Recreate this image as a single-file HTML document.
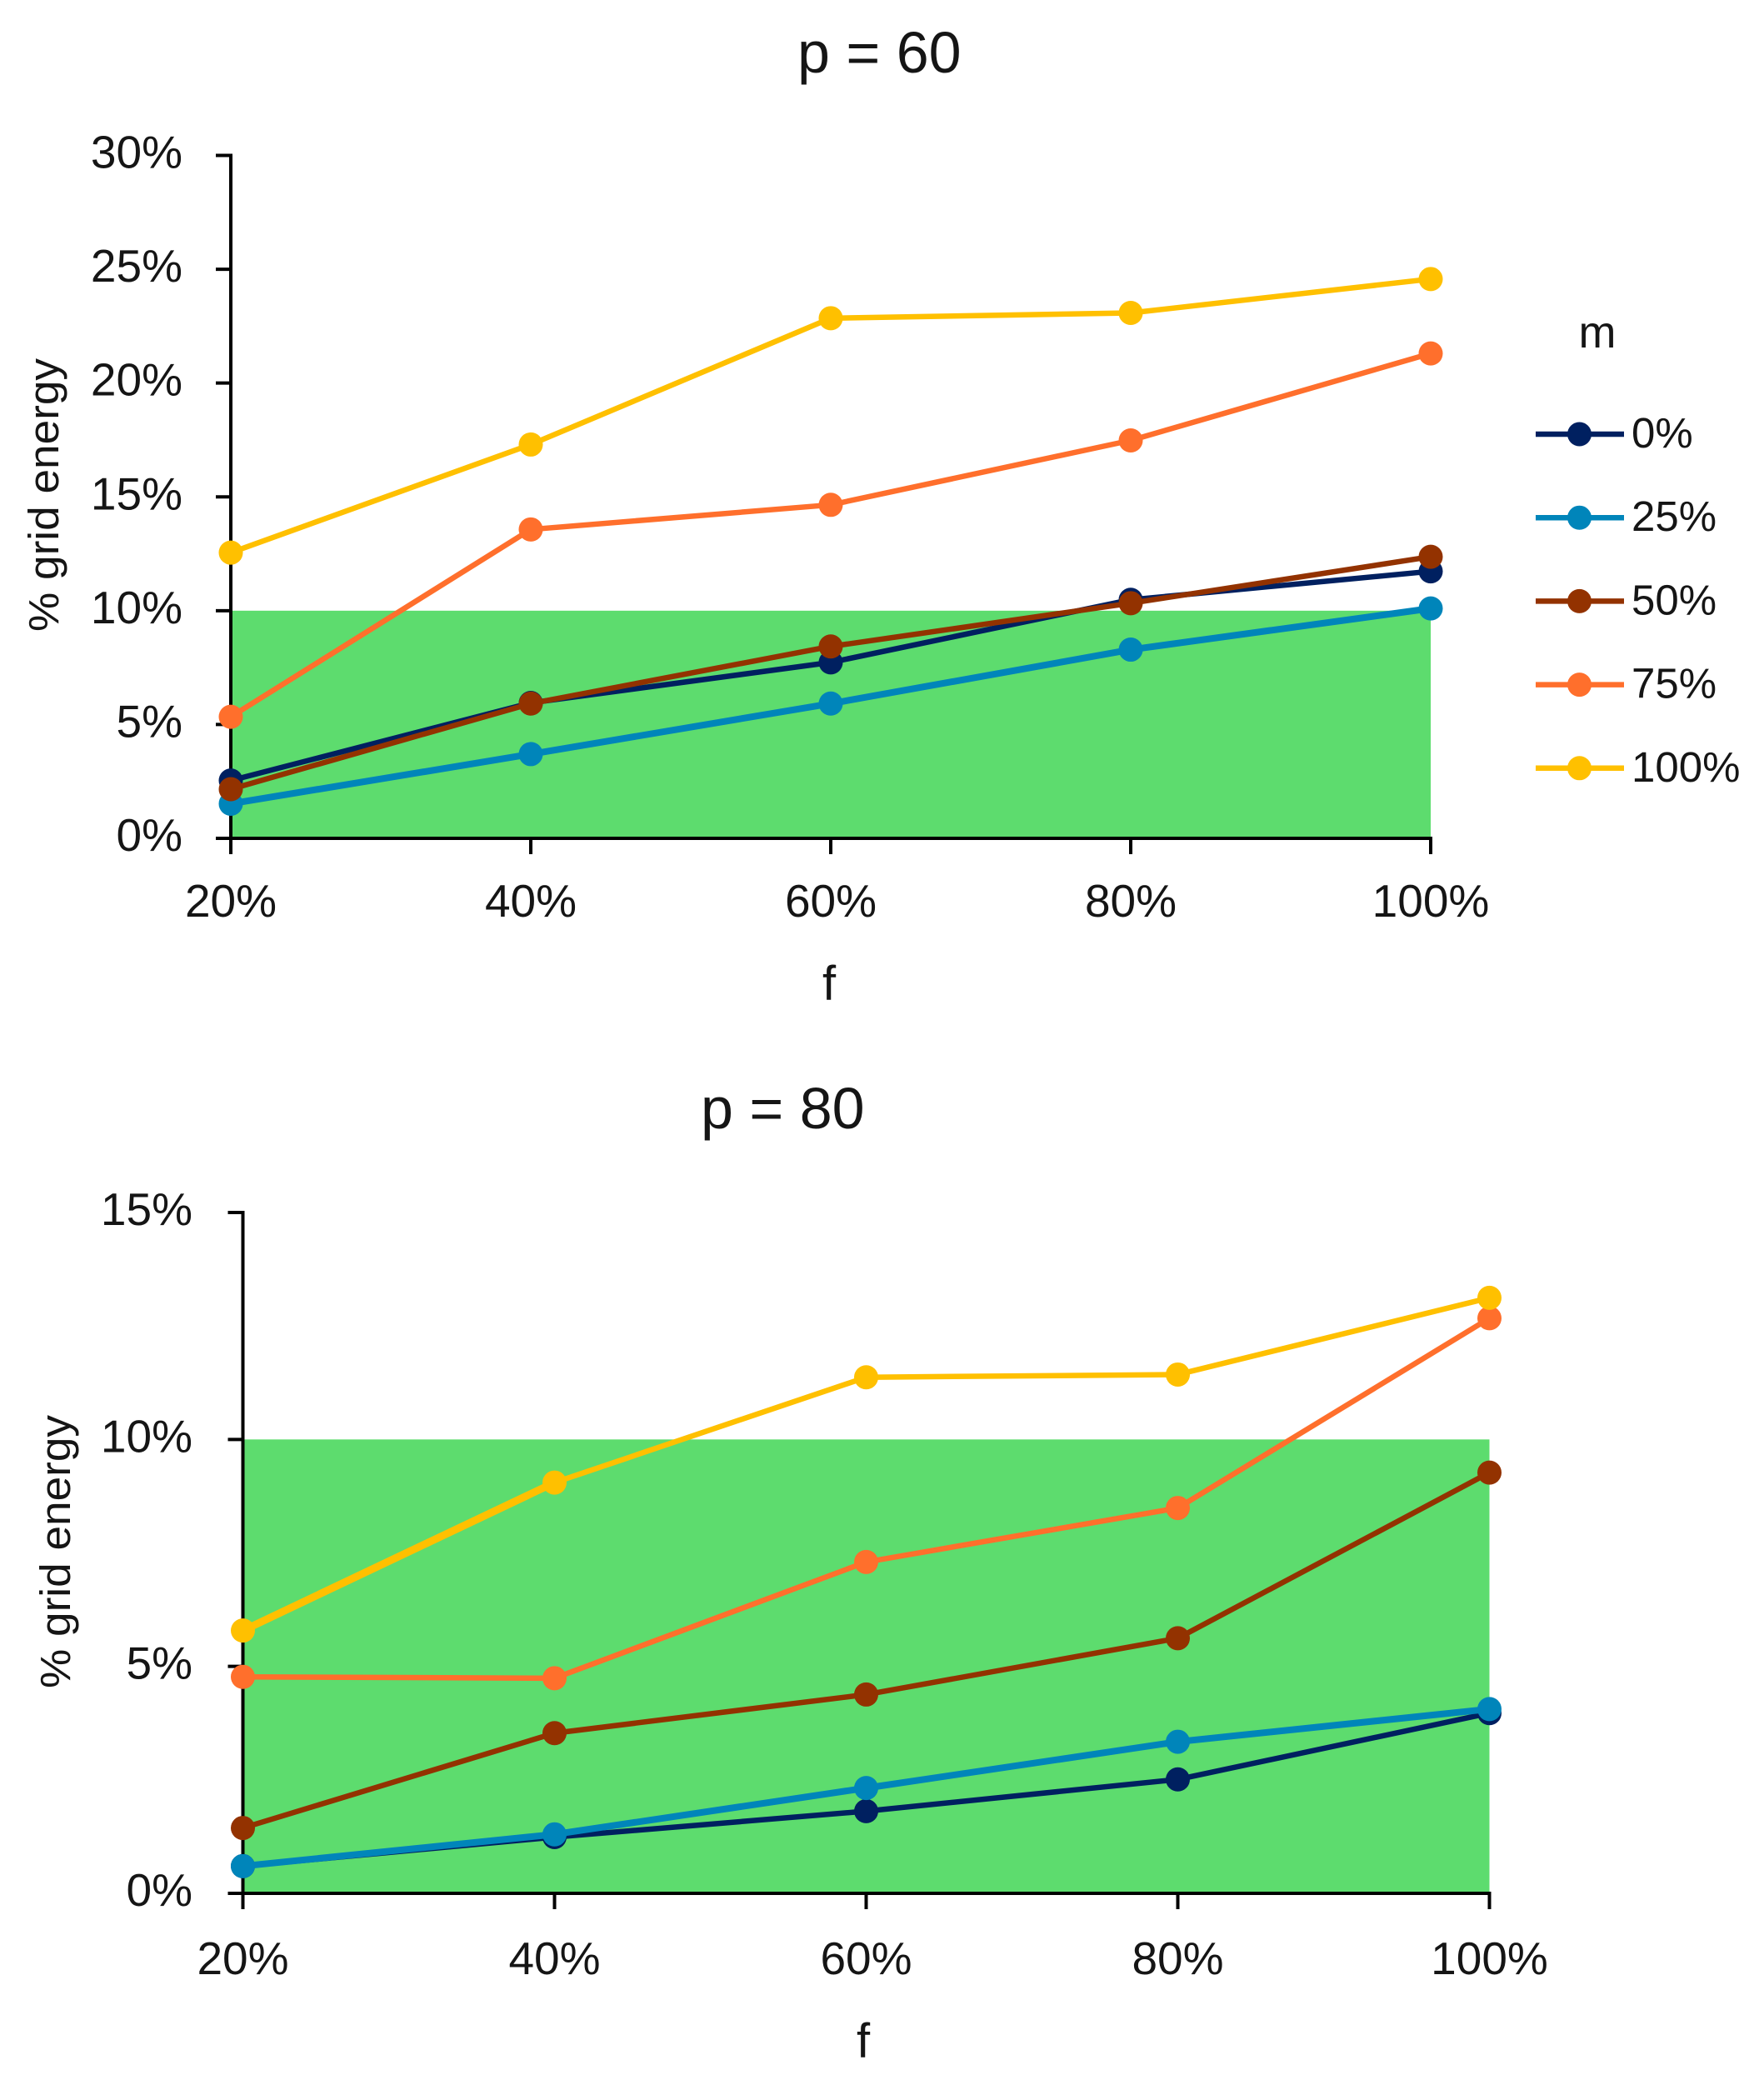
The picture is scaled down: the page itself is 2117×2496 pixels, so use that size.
<!DOCTYPE html>
<html lang="en">
<head>
<meta charset="utf-8">
<title>% grid energy vs f, for p = 60 and p = 80</title>
<style>
  html, body { margin: 0; padding: 0; background: #fff; }
  body { width: 2117px; height: 2496px; overflow: hidden; }
  svg { display: block; }
  text { font-family: "Liberation Sans", sans-serif; fill: #151515; }
</style>
</head>
<body>
<svg id="figure" xmlns="http://www.w3.org/2000/svg" width="2117" height="2496" viewBox="0 0 2117 2496">
  <rect x="0" y="0" width="2117" height="2496" fill="#ffffff"/>

  <g id="chart-60">
    <text x="957" y="87" font-size="70">p = 60</text>
    <text x="995" y="1200" font-size="58" text-anchor="middle">f</text>
    <text transform="translate(70,594) rotate(-90)" font-size="51" text-anchor="middle" textLength="328" lengthAdjust="spacingAndGlyphs">% grid energy</text>
  </g>

  <g id="chart-80">
    <text x="841" y="1354" font-size="70">p = 80</text>
    <text x="1036" y="2469" font-size="58" text-anchor="middle">f</text>
    <text transform="translate(84,1862) rotate(-90)" font-size="51" text-anchor="middle" textLength="328" lengthAdjust="spacingAndGlyphs">% grid energy</text>
  </g>

  <g id="legend">
    <text x="1917" y="417" font-size="54" text-anchor="middle">m</text>
  </g>
</svg>

<script>
// ---- Data ----
const categories = ["20%", "40%", "60%", "80%", "100%"];
const seriesLabels = ["0%", "25%", "50%", "75%", "100%"];

const p60Ticks = [0, 5, 10, 15, 20, 25, 30];
const p60M0 = [2.54, 5.95, 7.73, 10.48, 11.73];
const p60M25 = [1.52, 3.70, 5.92, 8.29, 10.10];
const p60M50 = [2.16, 5.92, 8.43, 10.33, 12.37];
const p60M75 = [5.34, 13.57, 14.65, 17.48, 21.30];
const p60M100 = [12.55, 17.30, 22.85, 23.08, 24.57];

const p80Ticks = [0, 5, 10, 15];
const p80M0 = [0.60, 1.24, 1.81, 2.51, 3.97];
const p80M25 = [0.60, 1.30, 2.32, 3.34, 4.06];
const p80M50 = [1.44, 3.53, 4.38, 5.62, 9.27];
const p80M75 = [4.77, 4.74, 7.30, 8.49, 12.67];
const p80M100 = [5.79, 9.05, 11.37, 11.43, 13.12];

const targetLimit = 10;

// ---- Styling ----
const seriesColors = ["#002060", "#0085BA", "#933200", "#FF6F2C", "#FFC000"];
const seriesWidths = [6.5, 8, 6.5, 6.5, 6.5];
const markerRadius = 14.5;
const NS = "http://www.w3.org/2000/svg";

function shape(tag, attrs, parent) {
  const el = document.createElementNS(NS, tag);
  for (const key in attrs) el.setAttribute(key, attrs[key]);
  parent.appendChild(el);
  return el;
}

function drawChart(cfg) {
  const root = document.getElementById(cfg.rootId);
  const maxTick = cfg.ticks[cfg.ticks.length - 1];
  const xScale = function (i) {
    return cfg.left + (cfg.right - cfg.left) * i / (categories.length - 1);
  };
  const yScale = function (v) {
    return cfg.bottom - (cfg.bottom - cfg.top) * v / maxTick;
  };

  const band = shape("rect", {
    x: xScale(0),
    y: yScale(targetLimit),
    width: xScale(categories.length - 1) - xScale(0),
    height: yScale(0) - yScale(targetLimit),
    fill: "#5DDC6E"
  }, root);
  
  

  const yAxis = shape("line", {
    x1: xScale(0), x2: xScale(0), y1: yScale(maxTick) - 2, y2: yScale(0) + 2,
    stroke: "#000", "stroke-width": 4
  }, root);
  
  

  const xAxis = shape("line", {
    x1: xScale(0) - 18, x2: xScale(categories.length - 1) + 2, y1: yScale(0), y2: yScale(0),
    stroke: "#000", "stroke-width": 4
  }, root);
  
  

  cfg.ticks.forEach(function (t) {
    const tick = shape("line", {
      x1: xScale(0) - 18, x2: xScale(0), y1: yScale(t), y2: yScale(t),
      stroke: "#000", "stroke-width": 4
    }, root);
    
    

    const label = shape("text", {
      x: cfg.yLabelRight, y: yScale(t) + 15, "font-size": 55, "text-anchor": "end"
    }, root);
    label.textContent = t + "%";
    
    
  });

  categories.forEach(function (c, i) {
    const tick = shape("line", {
      x1: xScale(i), x2: xScale(i), y1: yScale(0), y2: yScale(0) + 19,
      stroke: "#000", "stroke-width": 4
    }, root);
    
    

    const label = shape("text", {
      x: xScale(i), y: cfg.xLabelY, "font-size": 55, "text-anchor": "middle"
    }, root);
    label.textContent = c;
    
    
  });

  cfg.series.forEach(function (values, s) {
    const group = shape("g", {}, root);
    
    

    const points = values.map(function (v, i) {
      return xScale(i) + "," + yScale(v);
    }).join(" ");
    const line = shape("polyline", {
      points: points, fill: "none", stroke: seriesColors[s],
      "stroke-width": seriesWidths[s], "stroke-linejoin": "round"
    }, group);
    
    

    // The reference draws a few individual segments heavier than the rest.
    if (cfg.heavySeries === s) {
      const heavy = shape("line", {
        x1: xScale(cfg.heavySegment), y1: yScale(values[cfg.heavySegment]),
        x2: xScale(cfg.heavySegment + 1), y2: yScale(values[cfg.heavySegment + 1]),
        stroke: seriesColors[s], "stroke-width": 9
      }, group);
      
      
    }

    values.forEach(function (v, i) {
      const dot = shape("circle", {
        cx: xScale(i), cy: yScale(v), r: markerRadius, fill: seriesColors[s]
      }, group);
      
      
    });
  });
}

function drawLegend() {
  const root = document.getElementById("legend");
  seriesLabels.forEach(function (name, s) {
    const y = 521 + s * 100.2;
    const entry = shape("g", {}, root);
    
    

    const swatch = shape("line", {
      x1: 1843, x2: 1949, y1: y, y2: y, stroke: seriesColors[s], "stroke-width": 6.5
    }, entry);
    
    

    const dot = shape("circle", {
      cx: 1895.5, cy: y, r: markerRadius, fill: seriesColors[s]
    }, entry);
    
    

    const label = shape("text", {
      x: 1958, y: y + 16, "font-size": 51
    }, entry);
    label.textContent = name;
    
    
  });
}

drawChart({
  rootId: "chart-60", left: 277, right: 1717, top: 186.5, bottom: 1006,
  ticks: p60Ticks, yLabelRight: 219, xLabelY: 1100,
  series: [p60M0, p60M25, p60M50, p60M75, p60M100]
});
drawChart({
  rootId: "chart-80", left: 291.5, right: 1787.5, top: 1455, bottom: 2272,
  ticks: p80Ticks, yLabelRight: 231, xLabelY: 2369,
  series: [p80M0, p80M25, p80M50, p80M75, p80M100],
  heavySeries: 4, heavySegment: 0
});
drawLegend();
</script>
</body>
</html>
